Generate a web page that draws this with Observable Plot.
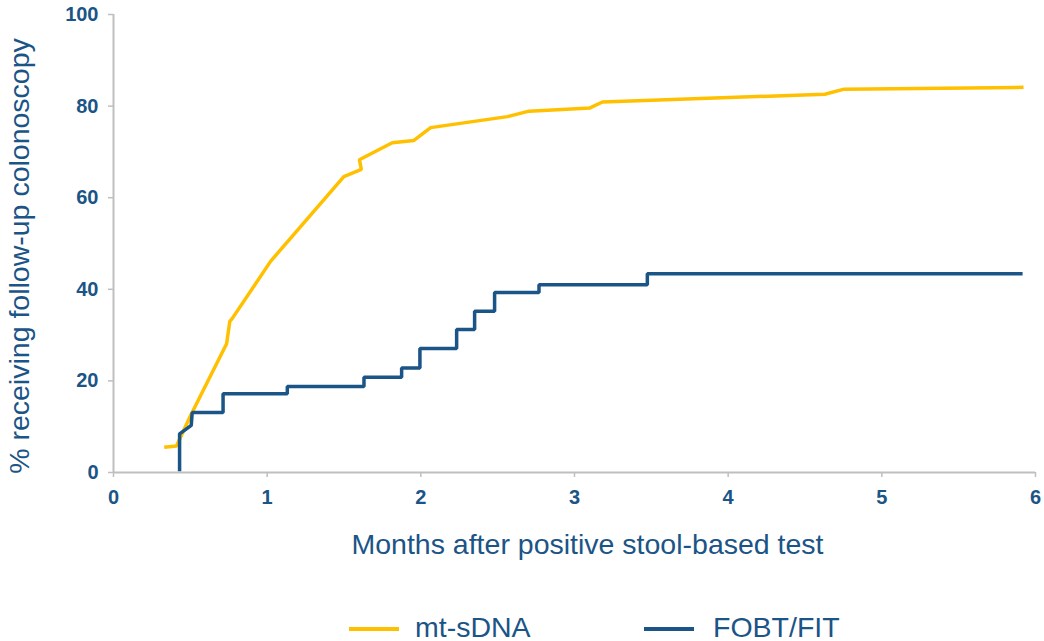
<!DOCTYPE html>
<html>
<head>
<meta charset="utf-8">
<script src="https://cdn.jsdelivr.net/npm/d3@7"></script>
<script src="https://cdn.jsdelivr.net/npm/@observablehq/plot@0.6"></script>
<style>
  html, body { margin: 0; padding: 0; background: #fff; }
  body { width: 1044px; height: 641px; overflow: hidden; font-family: "Liberation Sans", Arial, sans-serif; }
  #legend { position: relative; width: 1044px; height: 61px; }
  #legend .swatch { position: absolute; height: 4px; width: 50px; }
  #legend .label { position: absolute; font-size: 28.5px; line-height: 28px; color: #1b5486; white-space: nowrap; }
</style>
</head>
<body>
<div id="chart"></div>
<div id="legend"></div>
<script>
// Axis ticks
const xTicks = [0, 1, 2, 3, 4, 5, 6];
const yTicks = [0, 20, 40, 60, 80, 100];

// Series names
const seriesNames = ["mt-sDNA", "FOBT/FIT"];

// mt-sDNA cumulative follow-up curve (months, %)
const sdnaMonths = [0.33, 0.41, 0.497, 0.736, 0.757, 0.772, 1.022, 1.499, 1.613, 1.600, 1.814, 1.955, 2.064, 2.563, 2.704, 3.101, 3.182, 4.629, 4.755, 5.922];
const sdnaPct    = [5.5, 5.8, 12.1, 28.1, 33.0, 33.6, 46.1, 64.6, 66.2, 68.3, 72.0, 72.5, 75.3, 77.7, 78.9, 79.6, 80.9, 82.6, 83.7, 84.1];

// FOBT/FIT curve: initial rise, then step events and final follow-up time
const fitLeadMonths = [0.43, 0.43, 0.506, 0.512];
const fitLeadPct    = [0.3, 8.45, 10.3, 13.1];
const fitStepMonths = [0.713, 1.131, 1.63, 1.875, 1.994, 2.233, 2.35, 2.48, 2.769, 3.474];
const fitStepPct    = [17.2, 18.8, 20.8, 22.8, 27.1, 31.2, 35.2, 39.3, 41.0, 43.4];
const fitEndMonth = 5.916;

const gold = "#ffc000";
const blue = "#1b5486";
const axisGray = "#bfbfbf";
const font = "'Liberation Sans', Arial, sans-serif";

const sdna = sdnaMonths.map((m, i) => ({month: m, pct: sdnaPct[i]}));

// Expand the step events into the vertices of a staircase
const fit = fitLeadMonths.map((m, i) => ({month: m, pct: fitLeadPct[i]}));
let level = fitLeadPct[fitLeadPct.length - 1];
fitStepMonths.forEach((m, i) => {
  fit.push({month: m, pct: level});
  level = fitStepPct[i];
  fit.push({month: m, pct: level});
});
fit.push({month: fitEndMonth, pct: level});

const chart = Plot.plot({
  width: 1044,
  height: 580,
  marginLeft: 113,
  marginRight: 9,
  marginTop: 14,
  marginBottom: 108,
  style: {fontFamily: font, background: "#fff", color: blue},
  x: {domain: [0, 6]},
  y: {domain: [0, 100]},
  marks: [
    Plot.axisX({ticks: xTicks, tickFormat: d3.format("d"), tickSize: 5, tickPadding: 12, stroke: axisGray, strokeWidth: 1.5,
      fill: blue, fontSize: 20, fontWeight: "bold", label: null}),
    Plot.axisY({ticks: yTicks, tickFormat: d3.format("d"), tickSize: 5, tickPadding: 10, stroke: axisGray, strokeWidth: 1.5,
      fill: blue, fontSize: 20, fontWeight: "bold", label: null}),
    Plot.ruleY([0], {stroke: axisGray, strokeWidth: 2}),
    Plot.ruleX([0], {stroke: axisGray, strokeWidth: 2}),
    Plot.line(sdna, {x: "month", y: "pct", stroke: gold, strokeWidth: 3.5,
      strokeLinejoin: "miter", strokeLinecap: "butt"}),
    Plot.line(fit, {x: "month", y: "pct", stroke: blue, strokeWidth: 3.5,
      strokeLinejoin: "miter", strokeLinecap: "butt"}),
    Plot.text(["Months after positive stool-based test"], {frameAnchor: "bottom", dx: 13, dy: 72,
      fill: blue, fontSize: 28.5, lineAnchor: "middle", textAnchor: "middle"}),
    Plot.text(["% receiving follow-up colonoscopy"], {frameAnchor: "left", dx: -94, dy: 12.5, rotate: -90,
      fill: blue, fontSize: 28.5, lineAnchor: "middle", textAnchor: "middle"})
  ]
});
document.getElementById("chart").appendChild(chart);

// Legend below the chart
const legend = document.getElementById("legend");
const legendItems = [
  {name: seriesNames[0], color: gold, swatchLeft: 349, textLeft: 415},
  {name: seriesNames[1], color: blue, swatchLeft: 644, textLeft: 713}
];
legendItems.forEach(d => {
  const sw = document.createElement("div");
  sw.className = "swatch";
  sw.style.left = d.swatchLeft + "px";
  sw.style.top = "47px";
  sw.style.background = d.color;
  legend.appendChild(sw);
  const lb = document.createElement("div");
  lb.className = "label";
  lb.style.left = d.textLeft + "px";
  lb.style.top = "33px";
  lb.textContent = d.name;
  legend.appendChild(lb);
});
</script>
</body>
</html>
